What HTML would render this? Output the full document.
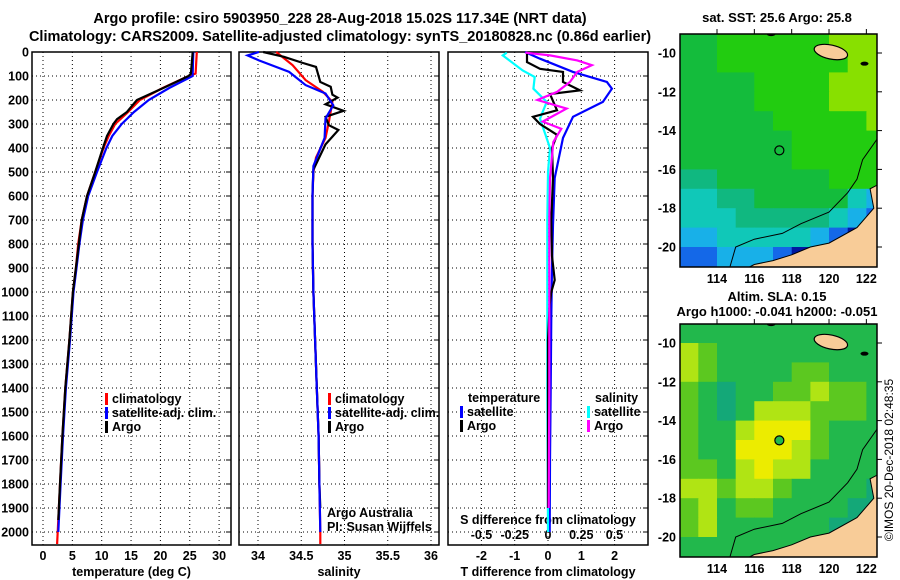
<!DOCTYPE html>
<html><head><meta charset="utf-8">
<style>
html,body{margin:0;padding:0;background:#fff;}
svg{display:block;font-family:"Liberation Sans",Arial,sans-serif;}
.b{font-weight:bold;font-size:12.5px;}
.t{font-weight:bold;font-size:14.5px;}
.m{font-weight:bold;font-size:13px;}
</style></head>
<body>
<svg id="c" width="900" height="580" viewBox="0 0 900 580" xmlns="http://www.w3.org/2000/svg">
<text class="t" x="340" y="23" text-anchor="middle">Argo profile: csiro 5903950_228 28-Aug-2018 15.02S 117.34E (NRT data)</text>
<text class="t" x="340" y="41" text-anchor="middle">Climatology: CARS2009. Satellite-adjusted climatology: synTS_20180828.nc (0.86d earlier)</text>
<text class="m" x="777" y="22" text-anchor="middle">sat. SST: 25.6 Argo: 25.8</text>
<text class="m" x="777" y="301" text-anchor="middle">Altim. SLA: 0.15</text>
<text class="m" x="777" y="316" text-anchor="middle">Argo h1000: -0.041 h2000: -0.051</text>
<text x="893" y="460" font-size="12" text-anchor="middle" transform="rotate(-90 893 460)">©IMOS 20-Dec-2018 02:48:35</text>
<g id="g"></g>
</svg>
<script>
// ---------- data ----------
const depthTicks=[0,100,200,300,400,500,600,700,800,900,1000,1100,1200,1300,1400,1500,1600,1700,1800,1900,2000];
const tempTicks=[0,5,10,15,20,25,30];
const salTicks=[34,34.5,35,35.5,36];
const tdiffTicks=[-2,-1,0,1,2];
const sdiffTicks=[-0.5,-0.25,0,0.25,0.5];
const sdiffLabels=["-0.5","-0.25","0","0.25","0.5"];
const salLabels=["34","34.5","35","35.5","36"];

const tArgoD=[0,90,100,150,200,250,280,300,350,400,500,600,700,800,900,1000,1200,1400,1600,1800,1950];
const tArgoV=[25.5,25.2,24.8,20.5,16,14.3,12.6,12,10.9,10.2,8.9,7.5,6.6,6.1,5.6,5.1,4.5,3.8,3.3,2.9,2.6];
const tClimD=[0,90,100,150,200,250,300,350,400,500,600,700,800,900,1000,1200,1400,1600,1800,2000,2050];
const tClimV=[26.2,26.0,24.8,20.4,16.5,14.5,12.3,11.2,10.3,8.9,7.5,6.6,6.0,5.6,5.1,4.5,3.8,3.3,2.9,2.5,2.4];
const tSatD=[0,90,100,150,200,250,300,350,400,500,600,700,800,900,1000,1200,1400,1600,1800,2000];
const tSatV=[25.6,25.5,25.5,21.5,18,15.5,13.4,11.8,10.8,9.2,7.7,6.8,6.2,5.7,5.2,4.6,3.9,3.4,3.0,2.6];

const sArgoD=[0,20,46,62,125,145,178,190,218,245,270,305,325,385,490,590,800,1000,1200,1400,1600,1800,1900];
const sArgoV=[34.06,34.3,34.52,34.67,34.72,34.84,34.86,34.92,34.78,34.99,34.78,34.82,34.93,34.78,34.64,34.63,34.63,34.64,34.66,34.68,34.7,34.71,34.72];
const sClimD=[0,55,117,166,208,290,358,440,500,600,800,1000,1200,1400,1600,1800,2000,2050];
const sClimV=[34.21,34.4,34.55,34.75,34.86,34.82,34.78,34.67,34.64,34.63,34.63,34.64,34.66,34.68,34.7,34.71,34.72,34.72];
const sSatD=[0,14,35,83,138,173,222,277,358,475,600,800,1000,1200,1400,1600,1800,2000];
const sSatV=[34.01,33.88,34.01,34.36,34.55,34.78,34.87,34.78,34.77,34.64,34.63,34.63,34.64,34.66,34.68,34.7,34.71,34.72];

const dtSatD=[0,28,83,125,153,208,270,358,525,720,900,1100,1400,1700,2000];
const dtSatV=[-0.69,-0.24,0.75,1.77,1.92,1.65,0.75,0.45,0.2,0.15,0.12,0.1,0.08,0.06,0.05];
const dtArgoD=[8,42,70,83,125,160,175,243,270,300,345,400,525,700,850,950,1000,1050,1200,1500,1900];
const dtArgoV=[-0.63,-0.63,-0.24,0.45,0.45,0.96,0.06,0.27,-0.45,-0.24,0.27,0.12,0.15,0.1,0.12,0.2,0.1,0.05,0.0,0.0,0.0];
const dsArgoD=[3,14,35,55,83,125,166,200,236,290,320,375,525,700,1000,1400,1900];
const dsArgoV=[-0.17,0.015,0.22,0.33,0.22,0.165,0.07,-0.08,0.14,-0.04,0.1,0.04,0.015,0.01,0.01,0.01,0.005];
const dsSatD=[3,14,77,104,153,208,278,400,500,700,1000,1400,2000];
const dsSatV=[-0.31,-0.34,-0.19,-0.1,-0.11,-0.01,-0.06,0.015,0.0,-0.005,-0.005,-0.005,0.0];

// map grids, rows lat -9..-20 (top to bottom), cols lon 112..122
const sstGrid=["66777777888","66777777788","66667777888","66667777888","66666777778","66666677777","66666677777","55666666777","44556666643","44455555432","33444443211","22333211111"];
const slaGrid=["44444444444","65444444444","65444455444","54344556554","54346665554","54467775444","54477765444","55467664444","66566544443","56455444433","56444444333","44444443333"];
const mapLonTicks=[114,116,118,120,122];
const mapLatTicks=[-10,-12,-14,-16,-18,-20];
const argoPos=[117.34,-15.02];
const coastLon=[122.6,122.2,122.4,121.5,120,119,118,117,116,115.6,122.6];
const coastLat=[-16.8,-17,-18,-19,-19.8,-20,-20.4,-20.7,-20.9,-21.1,-21.1];
const isoLon=[114.7,115,116,117.5,118.5,120,121,121.5,121.8,122.6];
const isoLat=[-21,-20,-19.6,-19.3,-18.8,-18.2,-17.2,-16.5,-15.5,-14.4];

// ---------- helpers ----------
const NS="http://www.w3.org/2000/svg";
const G=document.getElementById('g');
function el(tag,attrs,parent){const e=document.createElementNS(NS,tag);for(const k in attrs)e.setAttribute(k,attrs[k]);(parent||G).appendChild(e);return e;}
const Y0=52,YS=0.24;
const yD=d=>Y0+d*YS;
const xT=v=>43+v*5.87;
const xS=v=>258+(v-34)*86.5;
const xDT=v=>548+v*33.3;
const xDS=v=>548+v*133;

function panel(name,x0,x1,ticks,xf,labels,title){
  const g=el('g',{});
  
  
  depthTicks.forEach(d=>{const l=el('line',{x1:x0,x2:x1,y1:yD(d),y2:yD(d),stroke:'#000','stroke-dasharray':'1,3'},g);
    });
  ticks.forEach((t,i)=>{const l=el('line',{x1:xf(t),x2:xf(t),y1:Y0,y2:545,stroke:'#000','stroke-dasharray':'1,3'},g);
    
    if(labels){const tx=el('text',{x:xf(t),y:560,'text-anchor':'middle',class:'b'},g);tx.textContent=labels[i];
      }});
  const r=el('rect',{x:x0,y:Y0,width:x1-x0,height:545-Y0,fill:'none',stroke:'#000','stroke-width':1.5},g);
  
  depthTicks.forEach(d=>{const l=el('line',{x1:x1,x2:x1-5,y1:yD(d),y2:yD(d),stroke:'#000'},g);
    });
  const tt=el('text',{x:(x0+x1)/2,y:576,'text-anchor':'middle',class:'b'},g);tt.textContent=title;
  
  return g;
}
function line(ds,vs,xf,col,name,w){
  const pts=ds.map((d,i)=>xf(vs[i]).toFixed(1)+','+yD(d).toFixed(1)).join(' ');
  const p=el('polyline',{points:pts,fill:'none',stroke:col,'stroke-width':w||2.2,'stroke-linejoin':'miter'});
  
  
}
function txt(x,y,s,name,cls,anchor,extra){
  const t=el('text',Object.assign({x:x,y:y,class:cls||'b','text-anchor':anchor||'start'},extra||{}));t.textContent=s;
  
  return t;
}
function legend(x,y,col,s,name){
  const r=el('rect',{x:x,y:y-10,width:3,height:12,fill:col});
  
  
  txt(x+7,y,s,name);
}

// ---------- panels ----------
panel('temperature-panel',32,231,tempTicks,xT,tempTicks.map(String),'temperature (deg C)');
panel('salinity-panel',239,439,salTicks,xS,salLabels,'salinity');
panel('difference-panel',448,648,tdiffTicks,xDT,tdiffTicks.map(String),'T difference from climatology');
depthTicks.forEach(d=>{txt(29,yD(d)+4.5,String(d),'y-tick-label','b','end');});
sdiffTicks.forEach((t,i)=>{txt(xDS(t),539,sdiffLabels[i],'s-diff-tick-label','b','middle');});
txt(548,524,'S difference from climatology','s-diff-axis-title','b','middle');

line(tClimD,tClimV,xT,'#ff0000','temp-climatology-line');
line(tSatD,tSatV,xT,'#0000ff','temp-satellite-line');
line(tArgoD,tArgoV,xT,'#000','temp-argo-line');
line(sClimD,sClimV,xS,'#ff0000','sal-climatology-line');
line(sArgoD,sArgoV,xS,'#000','sal-argo-line');
line(sSatD,sSatV,xS,'#0000ff','sal-satellite-line');
line(dtSatD,dtSatV,xDT,'#0000ff','tdiff-satellite-line');
line(dsSatD,dsSatV,xDS,'#00ffff','sdiff-satellite-line');
line(dtArgoD,dtArgoV,xDT,'#000','tdiff-argo-line');
line(dsArgoD,dsArgoV,xDS,'#ff00ff','sdiff-argo-line');

legend(105,403,'#ff0000','climatology','legend-temp-climatology');
legend(105,417,'#0000ff','satellite-adj. clim.','legend-temp-satellite');
legend(105,431,'#000','Argo','legend-temp-argo');
legend(328,403,'#ff0000','climatology','legend-sal-climatology');
legend(328,417,'#0000ff','satellite-adj. clim.','legend-sal-satellite');
legend(328,431,'#000','Argo','legend-sal-argo');
txt(468,402,'temperature','legend-temperature-heading');
legend(460,416,'#0000ff','satellite','legend-tdiff-satellite');
legend(460,430,'#000','Argo','legend-tdiff-argo');
txt(595,402,'salinity','legend-salinity-heading');
legend(587,416,'#00ffff','satellite','legend-sdiff-satellite');
legend(587,430,'#ff00ff','Argo','legend-sdiff-argo');
txt(327,517,'Argo Australia','credit-argo-australia','','start',{'font-size':'12'});
txt(327,531,'PI: Susan Wijffels','credit-pi','','start',{'font-size':'12'});

// ---------- maps ----------
const sstCol={1:'#0018a0',2:'#1468e8',3:'#18b0e8',4:'#10c8b8',5:'#10b880',6:'#14bc3c',7:'#22cc10',8:'#88e000'};
const slaCol={3:'#14a878',4:'#22b84c',5:'#5cc820',6:'#b0e414',7:'#ecec00',8:'#f0c800'};
function map(name,top,grid,cols,filledDot){
  const L=680,R=877,T=top,B=top+233;
  const xm=lon=>717+(lon-114)*18.67;
  const ym=lat=>T+19+(-10-lat)*19.4;
  const g=el('g',{});
  
  
  const cp=el('clipPath',{id:name+'-clip'},g);el('rect',{x:L,y:T,width:R-L,height:B-T},cp);
  const inner=el('g',{'clip-path':'url(#'+name+'-clip)'},g);
  grid.forEach((row,r)=>{[...row].forEach((v,c)=>{
    const lat=-9-r,lon=112+c;
    const x=xm(lon),y=ym(lat);
    const rc=el('rect',{x:x.toFixed(1),y:y.toFixed(1),width:19.2,height:20,fill:cols[v]},inner);
    
    
  });});
  const cpts=coastLon.map((o,i)=>xm(o).toFixed(1)+','+ym(coastLat[i]).toFixed(1)).join(' ');
  const land=el('polygon',{points:cpts,fill:'#f8cc98',stroke:'#000','stroke-width':1},inner);
  
  const isl=el('ellipse',{cx:xm(120.1),cy:ym(-9.95),rx:17,ry:7,fill:'#f8cc98',stroke:'#000','stroke-width':1.2,transform:'rotate(12 '+xm(120.1)+' '+ym(-9.95)+')'},inner);
  
  el('ellipse',{cx:xm(121.9),cy:ym(-10.55),rx:4,ry:2,fill:'#000'},inner);
  el('ellipse',{cx:xm(116.9),cy:ym(-9.05),rx:4,ry:1.5,fill:'#000'},inner);
  const ipts=isoLon.map((o,i)=>xm(o).toFixed(1)+','+ym(isoLat[i]).toFixed(1)).join(' ');
  const iso=el('polyline',{points:ipts,fill:'none',stroke:'#000','stroke-width':1},inner);
  
  const dot=el('circle',{cx:xm(argoPos[0]),cy:ym(argoPos[1]),r:4.5,fill:filledDot?'#22b84c':'none',stroke:'#000','stroke-width':1.2},g);
  
  const fr=el('rect',{x:L,y:T,width:R-L,height:B-T,fill:'none',stroke:'#000','stroke-width':1.5},g);
  
  mapLonTicks.forEach(o=>{el('line',{x1:xm(o),x2:xm(o),y1:T-5,y2:T,stroke:'#000'},g);
    const t=el('text',{x:xm(o),y:B+16,'text-anchor':'middle',class:'b'},g);t.textContent=String(o);
    });
  mapLatTicks.forEach(a=>{el('line',{x1:R,x2:R+5,y1:ym(a),y2:ym(a),stroke:'#000'},g);
    const t=el('text',{x:676,y:ym(a)+4.5,'text-anchor':'end',class:'b'},g);t.textContent=String(a);
    });
}
map('sst-map',34,sstGrid,sstCol,false);
map('sla-map',324,slaGrid,slaCol,true);
</script>
</body></html>
